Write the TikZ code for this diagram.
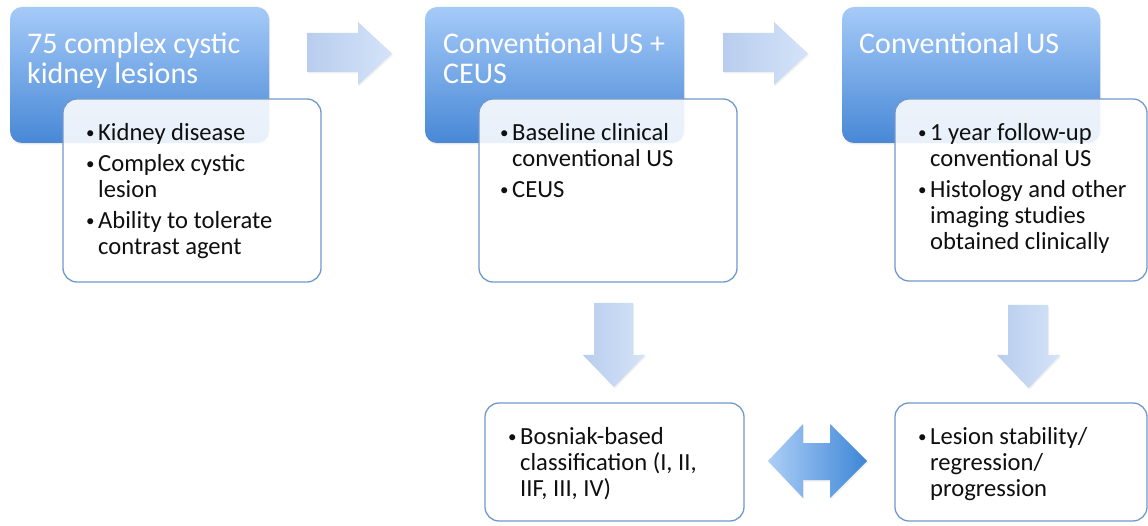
\documentclass[tikz,border=0pt]{standalone}
\usepackage{fontspec}
\setmainfont{Carlito}
\usetikzlibrary{shadows}
\definecolor{bluetop}{RGB}{165,202,248}
\definecolor{bluebot}{RGB}{72,136,214}
\definecolor{boxborder}{RGB}{112,153,206}
\definecolor{arrowA}{RGB}{184,205,238}
\definecolor{arrowB}{RGB}{212,227,248}
\definecolor{dblA}{RGB}{172,206,247}
\definecolor{dblB}{RGB}{62,134,214}
\definecolor{txt}{RGB}{15,15,15}
\newcommand{\bul}{\makebox[12pt][l]{\fontsize{17}{17}\selectfont\raisebox{1.5pt}{•}}}
\newcommand{\ind}{\hspace*{12pt}}
\newcommand{\firstline}{\rule{0pt}{20pt}}
\tikzset{
  titlebox/.style={rounded corners=12pt, top color=bluetop, bottom color=bluebot, draw=none,
    anchor=north west, inner sep=0pt, outer sep=0pt,
    drop shadow={opacity=0.18, shadow xshift=1pt, shadow yshift=-1.5pt}},
  infobox/.style={rounded corners=14pt, draw=boxborder, line width=1.3pt, fill=white,
    fill opacity=0.88, text opacity=1, anchor=north west, inner sep=0pt, outer sep=0pt},
  titletext/.style={anchor=north west, inner sep=0pt, align=left, text=white,
    font=\fontsize{30}{30}\selectfont},
  bodytext/.style={anchor=north west, inner sep=0pt, align=left, text=txt,
    font=\fontsize{24.6}{26}\selectfont},
  flowarrow/.style={left color=arrowA, right color=arrowB,
    drop shadow={opacity=0.12, shadow xshift=1pt, shadow yshift=-1.5pt}},
  dblarrow/.style={left color=dblA, right color=dblB,
    drop shadow={opacity=0.12, shadow xshift=1pt, shadow yshift=-1.5pt}}
}
\begin{document}
\begin{tikzpicture}[x=1pt,y=-1pt]
\useasboundingbox[fill=white] (0,0) rectangle (1148,526);

% stage 1
\node[titlebox, minimum width=259pt, minimum height=136pt] (t1) at (10,7) {};
\node[infobox, minimum width=258pt, minimum height=183pt] (b1) at (63,99) {};
\node[titletext] (tt1) at (27,29) {\rule{0pt}{24pt}75 complex cystic\\kidney lesions};
\node[bodytext] (bt1) at (86,120) {\firstline\bul Kidney disease\\[5pt]\bul Complex cystic\\\ind lesion\\[5pt]\bul Ability to tolerate\\\ind contrast agent};

% stage 2
\node[titlebox, minimum width=259pt, minimum height=136pt] (t2) at (425,7) {};
\node[infobox, minimum width=258pt, minimum height=183pt] (b2) at (479,99) {};
\node[titletext] (tt2) at (443,29) {\rule{0pt}{24pt}Conventional US +\\CEUS};
\node[bodytext] (bt2) at (500,120) {\firstline\bul Baseline clinical\\\ind conventional US\\[5pt]\bul CEUS};

% stage 3
\node[titlebox, minimum width=258pt, minimum height=136pt] (t3) at (842,7) {};
\node[infobox, minimum width=252pt, minimum height=182pt] (b3) at (895,99) {};
\node[titletext] (tt3) at (859,29) {\rule{0pt}{24pt}Conventional US};
\node[bodytext] (bt3) at (918,120) {\firstline\bul 1 year follow-up\\\ind conventional US\\[5pt]\bul Histology and other\\\ind imaging studies\\\ind obtained clinically};

% bottom boxes
\node[infobox, minimum width=259pt, minimum height=118pt] (b4) at (485,403) {};
\node[bodytext] (bt4) at (508,424) {\firstline\bul Bosniak-based\\\ind classification (I, II,\\\ind IIF, III, IV)};
\node[infobox, minimum width=252pt, minimum height=118pt] (b5) at (895,403) {};
\node[bodytext] (bt5) at (918,424) {\firstline\bul Lesion stability/\\\ind regression/\\\ind progression};

% block arrows
\shade[flowarrow] (307,33) -- (358,33) -- (358,22) -- (392,53.5) -- (358,85) -- (358,72) -- (307,72) -- cycle;
\shade[flowarrow] (723,33) -- (774,33) -- (774,22) -- (808,53.5) -- (774,85) -- (774,72) -- (723,72) -- cycle;
\shade[flowarrow] (594,303) -- (633,303) -- (633,355) -- (645,355) -- (614,387) -- (583,355) -- (594,355) -- cycle;
\shade[flowarrow] (1008,305) -- (1048,305) -- (1048,355) -- (1060,355) -- (1028.5,388) -- (997,355) -- (1008,355) -- cycle;
\shade[dblarrow] (768,461) -- (803,424) -- (803,443) -- (830,443) -- (830,424) -- (867,461) -- (830,498) -- (830,480) -- (803,480) -- (803,498) -- cycle;
\end{tikzpicture}
\end{document}
